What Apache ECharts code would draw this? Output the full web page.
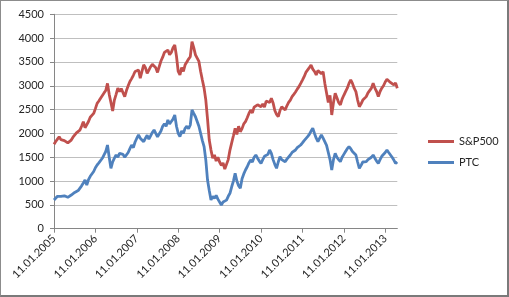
<!DOCTYPE html>
<html>
<head>
<meta charset="utf-8">
<script src="https://cdn.jsdelivr.net/npm/echarts@6/dist/echarts.min.js"></script>
<style>
html,body{margin:0;padding:0;background:#fff;}
#c{position:absolute;left:0;top:0;width:509px;height:297px;box-sizing:border-box;border:1px solid #8c8c8c;border-right:2px solid #7a7a7a;border-bottom:2px solid #7a7a7a;}
</style>
</head>
<body>
<div id="c"></div>
<script>
// Tick labels on the category axis (one per year)
const yearLabels = ['11.01.2005','11.01.2006','11.01.2007','11.01.2008','11.01.2009','11.01.2010','11.01.2011','11.01.2012','11.01.2013'];

// Semi-monthly observations (11th and 26th of each month), Jan 2005 .. Apr 2013
const sp500 = [
  1772,1830,1880,1930,1870,1900,1850,1830,1800,1840,1860,1920,1960,2010,2040,2070,2150,2247,2120,2080,2250,2340,2380,2420,
  2520,2630,2680,2740,2700,2850,2900,3050,2820,2650,2470,2700,2820,2950,2880,2940,2910,2770,2900,3000,3090,3150,3220,3300,
  3270,3330,3160,3300,3440,3380,3260,3330,3400,3450,3470,3380,3280,3400,3520,3600,3700,3660,3750,3650,3700,3800,3856,3620,
  3300,3230,3380,3300,3440,3500,3560,3610,3926,3800,3650,3580,3510,3300,3120,2950,2700,2300,1860,1650,1480,1550,1420,1500,
  1400,1330,1380,1250,1270,1450,1650,1800,1950,2107,1980,2150,2036,2100,2200,2246,2330,2420,2490,2430,2550,2527,2600,2560,
  2561,2620,2550,2680,2720,2650,2737,2640,2480,2400,2351,2480,2560,2597,2492,2580,2650,2700,2772,2820,2870,2930,2981,3050,
  3120,3191,3280,3320,3380,3436,3350,3300,3227,3320,3280,3250,3297,3050,2850,2650,2800,2387,2650,2842,2750,2650,2597,2720,
  2800,2877,2950,3050,3122,3050,2950,2877,2700,2561,2620,2700,2680,2772,2850,2820,2950,3052,2950,2880,2772,2880,2950,3000,
  3080,3136,3110,3070,3040,3017,3060,2948
];
const ptc = [
  602,640,680,707,680,700,690,670,659,690,707,730,760,790,800,812,900,960,1022,917,1030,1100,1127,1200,
  1280,1337,1380,1420,1478,1550,1620,1757,1500,1268,1400,1480,1547,1500,1580,1617,1560,1500,1478,1600,1680,1757,1700,1820,
  1898,1967,1900,1860,1827,1900,1960,1880,1950,2020,2073,2000,1930,1967,2050,2150,2200,2150,2282,2200,2250,2300,2387,2150,
  2000,1932,2050,2000,2107,2150,2100,2177,2492,2420,2350,2317,2150,2002,1850,1722,1442,1022,800,602,680,638,700,620,
  645,497,560,540,600,680,743,880,1000,1163,1000,900,848,1050,1150,1232,1300,1380,1442,1400,1500,1547,1480,1420,
  1373,1450,1520,1480,1560,1652,1580,1450,1350,1268,1400,1511,1450,1480,1406,1460,1500,1547,1600,1580,1652,1700,1720,1757,
  1800,1850,1880,1932,1980,2050,2107,2000,1900,1827,1900,1967,1900,1932,1750,1600,1450,1232,1450,1582,1500,1450,1406,1500,
  1560,1620,1680,1722,1680,1620,1580,1547,1400,1268,1330,1400,1360,1406,1450,1420,1500,1547,1480,1420,1373,1450,1520,1560,
  1600,1652,1600,1560,1500,1440,1373,1400
];

// category dates
const categories = [];
for (let i = 0; i < sp500.length; i++) {
  const y = 2005 + Math.floor(i / 24);
  const m = Math.floor((i % 24) / 2) + 1;
  const d = (i % 2 === 0) ? '11' : '26';
  categories.push(d + '.' + String(m).padStart(2, '0') + '.' + y);
}

const chart = echarts.init(document.getElementById('c'), null, {renderer: 'canvas'});
const FONT = 'Lato';
chart.setOption({
  animation: false,
  backgroundColor: '#fff',
  grid: {left: 53, right: 109.7, top: 13.3, bottom: 66.3, containLabel: false},
  legend: {
    orient: 'vertical',
    left: 422,
    top: 130,
    itemWidth: 26,
    itemHeight: 3,
    itemGap: 10,
    icon: 'rect',
    textStyle: {fontFamily: FONT, fontSize: 11, color: '#262626'},
    data: ['S&P500', 'PTC']
  },
  xAxis: {
    type: 'category',
    data: categories,
    boundaryGap: false,
    axisLine: {lineStyle: {color: '#868686', width: 1}},
    axisTick: {show: true, length: 4, alignWithLabel: true, interval: function (i) { return i % 24 === 0; }, lineStyle: {color: '#868686'}},
    axisLabel: {
      interval: function (i) { return i % 24 === 0; },
      formatter: function (v, i) { return yearLabels[i / 24]; },
      rotate: 45,
      margin: 8,
      fontFamily: FONT, fontSize: 11, color: '#262626'
    },
    splitLine: {show: false}
  },
  yAxis: {
    type: 'value',
    min: 0, max: 4500, interval: 500,
    axisLine: {show: true, lineStyle: {color: '#868686', width: 1}},
    axisTick: {show: true, length: 4, lineStyle: {color: '#868686'}},
    axisLabel: {margin: 10, fontFamily: FONT, fontSize: 11, color: '#262626', formatter: function (v) { return String(v); }},
    splitLine: {lineStyle: {color: '#bfbfbf', width: 1}}
  },
  series: [
    {name: 'S&P500', type: 'line', data: sp500, showSymbol: false, symbol: 'none', lineStyle: {color: '#C0504D', width: 2.8}, itemStyle: {color: '#C0504D'}},
    {name: 'PTC', type: 'line', data: ptc, showSymbol: false, symbol: 'none', lineStyle: {color: '#4F81BD', width: 2.8}, itemStyle: {color: '#4F81BD'}}
  ]
});
</script>
</body>
</html>
